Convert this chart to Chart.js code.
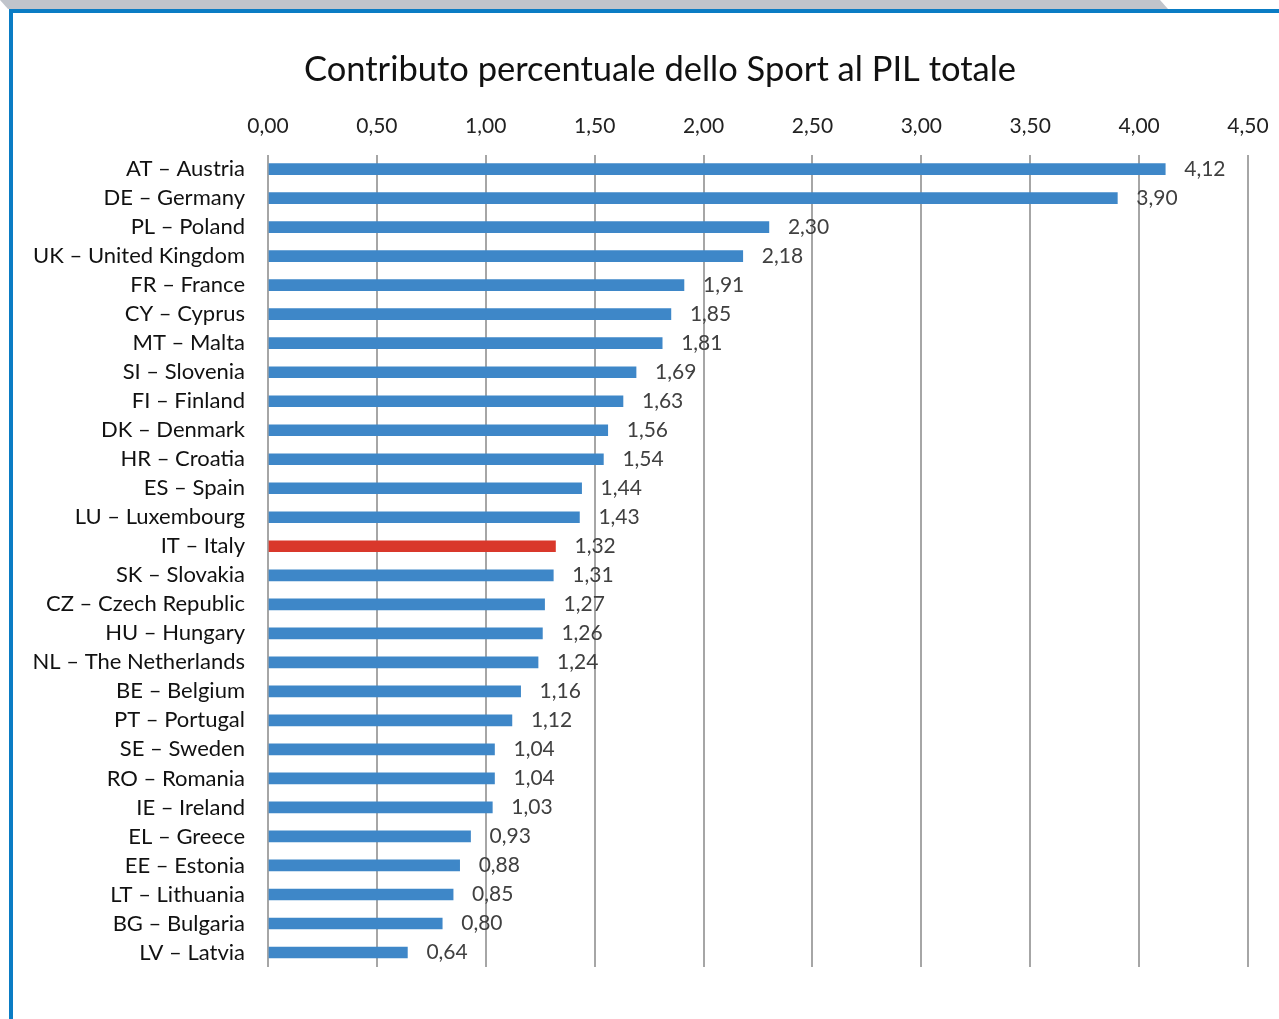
<!DOCTYPE html>
<html>
<head>
<meta charset="utf-8">
<script src="https://cdn.jsdelivr.net/npm/chart.js@4"></script>
<style>
  html, body { margin: 0; padding: 0; background: #fff; }
  #frame { position: relative; width: 1279px; height: 1019px; overflow: hidden; }
  #band { position: absolute; left: 0; top: 0; width: 1168px; height: 9px; background: #c0c4cb;
          clip-path: polygon(0 0, 1160px 0, 1168px 9px, 8px 9px); }
  #topline { position: absolute; left: 9px; top: 9px; right: 0; height: 4px; background: #0a7cc4; }
  #leftline { position: absolute; left: 9px; top: 9px; width: 4px; bottom: 0; background: #0a7cc4; }
  #chart { position: absolute; left: 0; top: 0; }
</style>
</head>
<body>
<div id="frame">
  <div id="band"></div>
  <div id="topline"></div>
  <div id="leftline"></div>
  <canvas id="chart" width="1279" height="1019"></canvas>
</div>
<script>
let countries = [
  "AT – Austria", "DE – Germany", "PL – Poland", "UK – United Kingdom", "FR – France",
  "CY – Cyprus", "MT – Malta", "SI – Slovenia", "FI – Finland", "DK – Denmark",
  "HR – Croatia", "ES – Spain", "LU – Luxembourg", "IT – Italy", "SK – Slovakia",
  "CZ – Czech Republic", "HU – Hungary", "NL – The Netherlands", "BE – Belgium", "PT – Portugal",
  "SE – Sweden", "RO – Romania", "IE – Ireland", "EL – Greece", "EE – Estonia",
  "LT – Lithuania", "BG – Bulgaria", "LV – Latvia"
];
let sportShare = [
  4.12, 3.90, 2.30, 2.18, 1.91,
  1.85, 1.81, 1.69, 1.63, 1.56,
  1.54, 1.44, 1.43, 1.32, 1.31,
  1.27, 1.26, 1.24, 1.16, 1.12,
  1.04, 1.04, 1.03, 0.93, 0.88,
  0.85, 0.80, 0.64
];
let highlighted = "IT – Italy";
let axisMin = 0;
let axisMax = 4.5;
let axisStep = 0.5;

function fmt(v) {
  return v.toFixed(2).replace(".", ",");
}

// valori scritti a destra delle barre
let valueLabels = {
  id: "valueLabels",
  afterLayout(chart) {
    // titolo un po' spostato a destra come nell'originale
    chart.titleBlock.left += 62;
  },
  afterDatasetsDraw(chart) {
    let ctx = chart.ctx;
    let meta = chart.getDatasetMeta(0);
    ctx.save();
    ctx.font = "21px Lato";
    ctx.fillStyle = "#404040";
    ctx.textAlign = "left";
    ctx.textBaseline = "middle";
    meta.data.forEach((bar, i) => {
      ctx.fillText(fmt(chart.data.datasets[0].data[i]), bar.x + 19, bar.y);
    });
    ctx.restore();
  }
};

let ctx = document.getElementById("chart").getContext("2d");
let chart = new Chart(ctx, {
  type: "bar",
  data: {
    labels: countries,
    datasets: [{
      data: sportShare,
      backgroundColor: countries.map(c => c === highlighted ? "#d9382b" : "#3e87c8"),
      barThickness: 11
    }]
  },
  options: {
    indexAxis: "y",
    responsive: false,
    animation: false,
    layout: { padding: { left: 10, right: 31, top: 0, bottom: 52 } },
    plugins: {
      legend: { display: false },
      tooltip: { enabled: false },
      title: {
        display: true,
        text: "Contributo percentuale dello Sport al PIL totale",
        color: "#111",
        font: { family: "Lato", size: 34.5, weight: "normal" },
        padding: { top: 49, bottom: 7 }
      }
    },
    scales: {
      x: {
        position: "top",
        min: axisMin,
        max: axisMax,
        afterFit(scale) { scale.paddingRight = 0; },
        ticks: {
          stepSize: axisStep,
          callback: v => fmt(v),
          color: "#222",
          font: { family: "Lato", size: 21 },
          padding: 16,
          maxRotation: 0
        },
        grid: { color: "#a6a6a6", lineWidth: 2, drawTicks: false },
        border: { display: false }
      },
      y: {
        afterFit(scale) { scale.width = 258; },
        ticks: {
          color: "#111",
          font: { family: "Lato", size: 22 },
          padding: 23,
          autoSkip: false
        },
        grid: { display: false, drawTicks: false },
        border: { display: false }
      }
    }
  },
  plugins: [valueLabels]
});
</script>
</body>
</html>
